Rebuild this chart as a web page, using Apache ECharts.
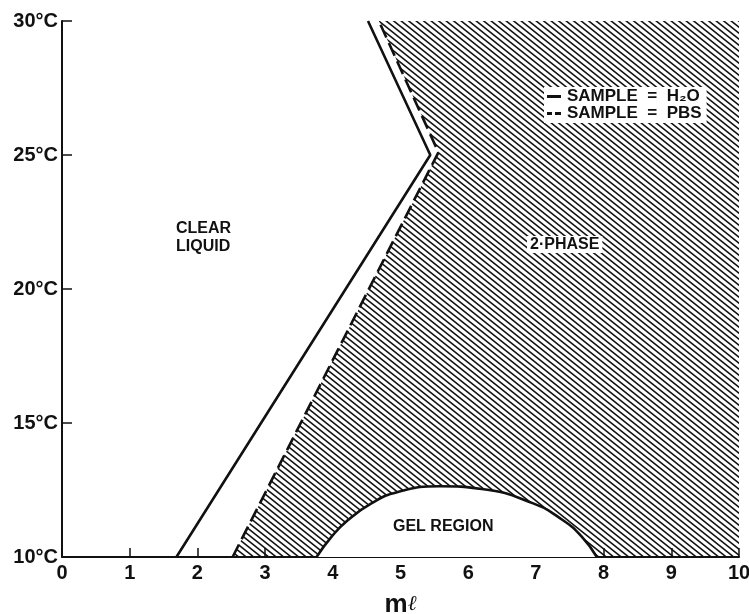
<!DOCTYPE html>
<html>
<head>
<meta charset="utf-8">
<script src="https://cdn.jsdelivr.net/npm/echarts@6/dist/echarts.min.js"></script>
<style>
  html, body { margin: 0; padding: 0; background: #fff; }
  #chart { width: 749px; height: 614px; }
</style>
</head>
<body>
<div id="chart"></div>
<script>
// Axis ranges and ticks
const X_MIN = 0, X_MAX = 10, X_STEP = 1;
const Y_MIN = 10, Y_MAX = 30, Y_STEP = 5;

// Phase boundary, sample = H2O (solid)
const h2oX = [1.69, 5.44, 4.52];
const h2oY = [10, 25, 30];

// Phase boundary, sample = PBS (dashed)
const pbsX = [2.52, 5.56, 4.68];
const pbsY = [10, 25.1, 30];

// Gel region boundary
const gelX = [3.76, 3.98, 4.22, 4.57, 4.95, 5.58, 6.2, 6.96, 7.40, 7.68, 7.90];
const gelY = [10, 10.75, 11.37, 12.0, 12.42, 12.64, 12.54, 12.0, 11.37, 10.75, 10];

const zip = (xs, ys) => xs.map((x, i) => [x, ys[i]]);

const FONT = '"Liberation Sans", Arial, Helvetica, sans-serif';
const INK = '#111';

// Diagonal hatch tile for the two-phase region
function hatchTile() {
  const c = document.createElement('canvas');
  c.width = 15; c.height = 12;
  const g = c.getContext('2d');
  g.strokeStyle = INK;
  g.lineWidth = 1.6;
  for (const off of [-15, -7.5, 0, 7.5, 15]) {
    g.beginPath();
    g.moveTo(off - 5, -4);
    g.lineTo(off + 20, 16);
    g.stroke();
  }
  return c;
}
const hatch = { image: hatchTile(), repeat: 'repeat' };

const chart = echarts.init(document.getElementById('chart'), null, { renderer: 'canvas' });

chart.setOption({
  animation: false,
  backgroundColor: '#fff',
  color: [INK],
  grid: { left: 62, right: 10, top: 21, bottom: 57, containLabel: false, outerBoundsMode: 'none' },
  xAxis: {
    type: 'value', min: X_MIN, max: X_MAX, interval: X_STEP,
    name: '{m|m}{l|ℓ}', nameLocation: 'middle', nameGap: 35,
    nameTextStyle: {
      rich: {
        m: { fontFamily: FONT, fontWeight: 'bold', fontSize: 26, color: INK },
        l: { fontFamily: '"DejaVu Serif", serif', fontStyle: 'italic', fontSize: 21, color: INK }
      }
    },
    axisLine: { show: true, lineStyle: { color: INK, width: 2 } },
    axisTick: { show: true, inside: true, length: 9, lineStyle: { color: INK, width: 1.5 } },
    axisLabel: { margin: 6, color: INK, fontFamily: FONT, fontWeight: 'bold', fontSize: 20 },
    splitLine: { show: false }
  },
  yAxis: {
    type: 'value', min: Y_MIN, max: Y_MAX, interval: Y_STEP,
    axisLine: { show: true, lineStyle: { color: INK, width: 2 } },
    axisTick: { show: true, inside: true, length: 10, lineStyle: { color: INK, width: 1.5 } },
    axisLabel: { margin: 4, color: INK, fontFamily: FONT, fontWeight: 'bold', fontSize: 20, formatter: '{value}°C' },
    splitLine: { show: false }
  },
  legend: {
    orient: 'vertical', left: 544, top: 87,
    backgroundColor: '#fff', padding: [1, 5, 1, 3], itemGap: 0,
    itemWidth: 14, itemHeight: 3,
    textStyle: { fontFamily: FONT, fontWeight: 'bold', fontSize: 17, color: INK, padding: [0, 0, 0, 1] },
    formatter: name => 'SAMPLE  =  ' + name,
    data: [
      { name: 'H₂O', icon: 'rect', itemStyle: { color: INK } },
      { name: 'PBS', icon: 'path://M0,0h5v3h-5z M8,0h6v3h-6z', itemStyle: { color: INK } }
    ]
  },
  series: [
    {
      // hatched two-phase region, bounded by the PBS curve and the plot frame
      type: 'custom', z: 1, silent: true,
      data: [[0, 0]],
      renderItem: (params, api) => {
        const pts = zip(pbsX, pbsY).concat([[X_MAX, Y_MAX], [X_MAX, Y_MIN]]).map(p => api.coord(p));
        return { type: 'polygon', shape: { points: pts }, style: { fill: hatch, stroke: null } };
      }
    },
    {
      name: 'gel', type: 'line', z: 3, smooth: true, symbol: 'none',
      data: zip(gelX, gelY),
      lineStyle: { color: INK, width: 2.6 },
      areaStyle: { color: '#fff', opacity: 1, origin: 'start' }
    },
    {
      name: 'H₂O', type: 'line', z: 4, symbol: 'none', itemStyle: { color: INK },
      data: zip(h2oX, h2oY),
      lineStyle: { color: INK, width: 2.6, type: 'solid' }
    },
    {
      name: 'PBS', type: 'line', z: 4, symbol: 'none', itemStyle: { color: INK },
      data: zip(pbsX, pbsY),
      lineStyle: { color: INK, width: 2.6, type: [14, 6] }
    }
  ],
  graphic: [
    {
      type: 'text', left: 176, top: 220, z: 100,
      style: { text: 'CLEAR\nLIQUID', fill: INK, font: 'bold 16px ' + FONT, lineHeight: 18 }
    },
    {
      type: 'text', left: 527, top: 236, z: 100,
      style: { text: '2·PHASE', fill: INK, font: 'bold 16px ' + FONT, backgroundColor: '#fff', padding: [1, 3, 0, 3] }
    },
    {
      type: 'text', left: 393, top: 519, z: 100,
      style: { text: 'GEL REGION', fill: INK, font: 'bold 16px ' + FONT }
    }
  ]
});
</script>
</body>
</html>
